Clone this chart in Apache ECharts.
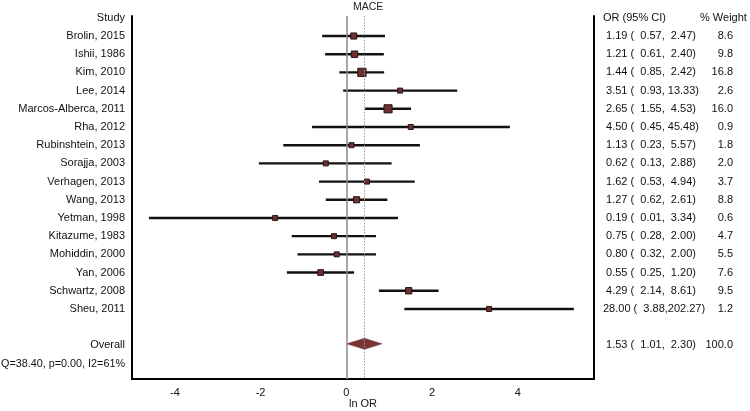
<!DOCTYPE html>
<html><head><meta charset="utf-8">
<script src="https://cdn.jsdelivr.net/npm/echarts@6/dist/echarts.min.js"></script>
<style>html,body{margin:0;padding:0;background:#fff}#c{width:750px;height:411px}</style>
</head><body><div id="c"></div>
<script>
const studies = ['Brolin, 2015','Ishii, 1986','Kim, 2010','Lee, 2014','Marcos-Alberca, 2011','Rha, 2012','Rubinshtein, 2013','Sorajja, 2003','Verhagen, 2013','Wang, 2013','Yetman, 1998','Kitazume, 1983','Mohiddin, 2000','Yan, 2006','Schwartz, 2008','Sheu, 2011'];
const orValues = [1.19,1.21,1.44,3.51,2.65,4.50,1.13,0.62,1.62,1.27,0.19,0.75,0.80,0.55,4.29,28.00];
const ciLower  = [0.57,0.61,0.85,0.93,1.55,0.45,0.23,0.13,0.53,0.62,0.01,0.28,0.32,0.25,2.14,3.88];
const ciUpper  = [2.47,2.40,2.42,13.33,4.53,45.48,5.57,2.88,4.94,2.61,3.34,2.00,2.00,1.20,8.61,202.27];
const weights  = [8.6,9.8,16.8,2.6,16.0,0.9,1.8,2.0,3.7,8.8,0.6,4.7,5.5,7.6,9.5,1.2];
const overallLabel = 'Overall';
const overallOR = 1.53, overallLower = 1.01, overallUpper = 2.30, overallWeight = 100.0;
const heterogeneity = 'Q=38.40, p=0.00, I2=61%';
const xTicks = [-4,-2,0,2,4];
const titleText = 'MACE';
const xName = 'ln OR';
const headerStudy = 'Study', headerOR = 'OR (95% CI)', headerWeight = '% Weight';

const FONT = 'Liberation Sans, Arial, sans-serif';
const HEADER_ROW = -1, OVERALL_ROW = studies.length + 1, Q_ROW = studies.length + 2;

function fmt(v, w) { return v.toFixed(2).padStart(w, ' '); }
function orText(o, l, u) { return fmt(o,5) + ' (' + fmt(l,6) + ',' + fmt(u,6) + ')'; }

const leftLabels = {}, rightLabels = {};
leftLabels[HEADER_ROW] = headerStudy;
rightLabels[HEADER_ROW] = '{oh|' + headerOR + '}{h|' + headerWeight + '}';
studies.forEach((s, i) => {
  leftLabels[i] = s;
  rightLabels[i] = '{o|' + orText(orValues[i], ciLower[i], ciUpper[i]) + '}{w|' + weights[i].toFixed(1) + '}';
});
leftLabels[OVERALL_ROW] = overallLabel;
rightLabels[OVERALL_ROW] = '{o|' + orText(overallOR, overallLower, overallUpper) + '}{w|' + overallWeight.toFixed(1) + '}';
leftLabels[Q_ROW] = '{q|' + heterogeneity + '}';
const labelRows = Object.keys(leftLabels).map(Number).sort((a,b)=>a-b);

const studyData = studies.map((s, i) => [Math.log(orValues[i]), Math.log(ciLower[i]), Math.log(ciUpper[i]), i, weights[i]]);
const overallData = [[Math.log(overallOR), Math.log(overallLower), Math.log(overallUpper), OVERALL_ROW]];

const chart = echarts.init(document.getElementById('c'), null, {renderer: 'canvas'});
const yBase = {
  type: 'value', inverse: true, min: -1.1, max: 18.85,
  axisLine: {show: true, onZero: false, lineStyle: {color: '#000', width: 2}},
  axisTick: {show: false}, splitLine: {show: false}
};
chart.setOption({
  animation: false,
  backgroundColor: '#fff',
  title: {text: titleText, left: 353, top: 2, padding: 0,
    textStyle: {fontFamily: FONT, fontSize: 10.5, fontWeight: 'normal', color: '#222'}},
  grid: {left: 132, right: 156, top: 16, bottom: 32, containLabel: false, outerBoundsMode: 'none'},
  xAxis: {
    type: 'value', min: -5, max: 5.78,
    axisLine: {show: true, onZero: false, lineStyle: {color: '#000', width: 2}},
    axisTick: {show: false}, splitLine: {show: false},
    axisLabel: {customValues: xTicks, formatter: v => String(v), margin: 8,
      fontFamily: FONT, fontSize: 11, color: '#111'},
    name: xName, nameLocation: 'middle', nameGap: 19, nameMoveOverlap: false,
    nameTextStyle: {fontFamily: FONT, fontSize: 11, color: '#111'}
  },
  yAxis: [
    Object.assign({}, yBase, {position: 'left',
      axisLabel: {customValues: labelRows, formatter: v => leftLabels[Math.round(v)] || '',
        margin: 7, fontFamily: FONT, fontSize: 11, color: '#111',
        rich: {q: {fontFamily: FONT, fontSize: 10.8, color: '#111'}}}}),
    Object.assign({}, yBase, {position: 'right',
      axisLabel: {customValues: labelRows, formatter: v => rightLabels[Math.round(v)] || '',
        margin: 9, fontFamily: FONT, fontSize: 11, color: '#111',
        rich: {
          o: {width: 104, align: 'left', fontFamily: FONT, fontSize: 11, color: '#111'},
          w: {width: 26, align: 'right', fontFamily: FONT, fontSize: 11, color: '#111'},
          oh: {width: 97, align: 'left', fontFamily: FONT, fontSize: 11, color: '#111'},
          h: {width: 47, align: 'left', fontFamily: FONT, fontSize: 11, color: '#111'}
        }}})
  ],
  series: [
    {
      type: 'scatter', data: [], z: 1, silent: true,
      markLine: {silent: true, symbol: 'none', label: {show: false},
        data: [
          {xAxis: 0, lineStyle: {color: '#8a8a8a', width: 1.5, type: 'solid'}},
          {xAxis: Math.log(overallOR), lineStyle: {color: '#999', width: 1, type: [1.5, 1.5]}}
        ]}
    },
    {
      type: 'custom', z: 3, silent: true,
      data: studyData,
      encode: {x: [0,1,2], y: 3},
      renderItem: function (params, api) {
        const row = api.value(3);
        const c = api.coord([api.value(0), row]);
        const lo = api.coord([api.value(1), row]);
        const hi = api.coord([api.value(2), row]);
        const s = Math.max(5, 1.9 * Math.sqrt(api.value(4)) + 0.5);
        return {type: 'group', children: [
          {type: 'line', shape: {x1: lo[0], y1: lo[1], x2: hi[0], y2: hi[1]},
            style: {stroke: '#111', lineWidth: 2.4}},
          {type: 'rect', shape: {x: c[0] - s/2, y: c[1] - s/2, width: s, height: s},
            style: {fill: '#6e3131', stroke: '#2a1212', lineWidth: 1}}
        ]};
      }
    },
    {
      type: 'custom', z: 3, silent: true,
      data: overallData,
      encode: {x: [0,1,2], y: 3},
      renderItem: function (params, api) {
        const row = api.value(3);
        const c = api.coord([api.value(0), row]);
        const lo = api.coord([api.value(1), row]);
        const hi = api.coord([api.value(2), row]);
        const h = 5.5, yc = c[1] - 1.5;
        return {type: 'polygon', shape: {points: [[lo[0], yc], [c[0], yc - h], [hi[0], yc], [c[0], yc + h]]},
          style: {fill: '#7b3434', stroke: '#7b3434', lineWidth: 0.5}};
      }
    }
  ]
});
</script>
</body></html>
